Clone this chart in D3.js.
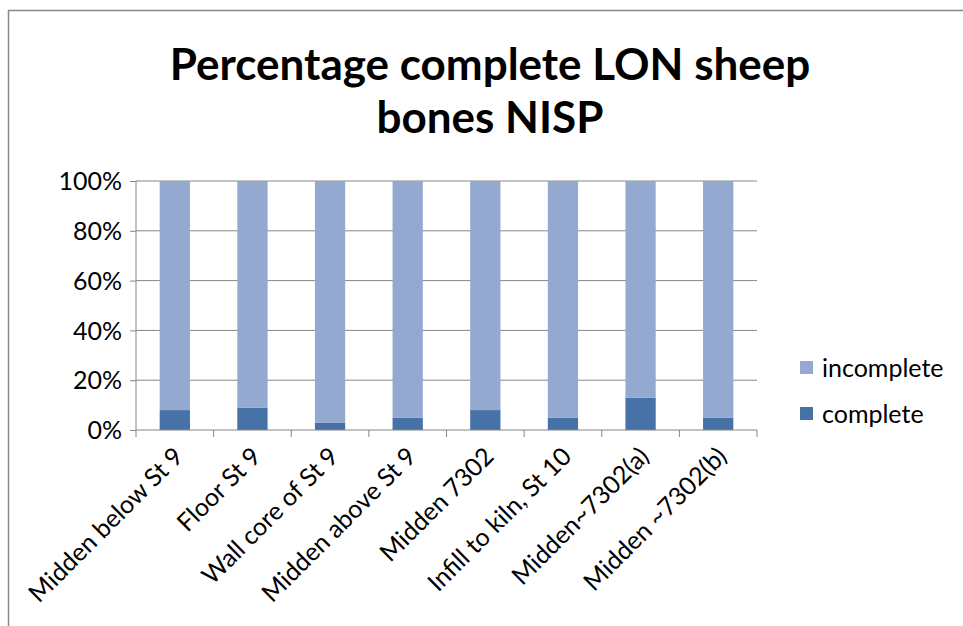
<!DOCTYPE html>
<html>
<head>
<meta charset="utf-8">
<script src="https://cdn.jsdelivr.net/npm/d3@7"></script>
<style>
    body { margin: 0; background: #fff; overflow: hidden; }
    text { font-family: Lato, "Open Sans", sans-serif; fill: #000; }
</style>
</head>
<body>
<div id="chart"></div>
<script>
// chart values
var categories = ["Midden below St 9", "Floor St 9", "Wall core of St 9", "Midden above St 9",
    "Midden 7302", "Infill to kiln, St 10", "Midden~7302(a)", "Midden ~7302(b)"];
var complete = [8, 9, 3, 5, 8, 5, 13, 5];
var incomplete = [92, 91, 97, 95, 92, 95, 87, 95];
var seriesNames = ["complete", "incomplete"];
var yTicks = [0, 0.2, 0.4, 0.6, 0.8, 1];
var titleLines = ["Percentage complete LON sheep", "bones NISP"];

var svgWidth = 963;
var svgHeight = 626;
var margin = { top: 181, left: 136, right: 206, bottom: 196 };
var width = svgWidth - margin.left - margin.right;
var height = svgHeight - margin.top - margin.bottom;

var colors = { complete: "#4672a8", incomplete: "#94a9d0" };

var svg = d3.select("#chart")
    .append("svg")
    .attr("width", svgWidth)
    .attr("height", svgHeight)
    .style("display", "block");

// outer chart border (only top and left edges are in view)
svg.append("path")
    .attr("d", `M8.5,${svgHeight}V10.5H${svgWidth}`)
    .attr("fill", "none")
    .attr("stroke", "#868686")
    .attr("stroke-width", 1.5);

// title
svg.append("text")
    .attr("text-anchor", "middle")
    .style("font-size", "44px")
    .style("font-weight", "bold")
    .selectAll("tspan")
    .data(titleLines)
    .enter()
    .append("tspan")
    .attr("x", 490)
    .attr("y", (d, i) => 80 + i * 53)
    .text(d => d);

var chartGroup = svg.append("g")
    .attr("transform", `translate(${margin.left}, ${margin.top})`);

// build rows for stacking
var rows = categories.map(function (c, i) {
    return { name: c, complete: complete[i], incomplete: incomplete[i] };
});

var stacked = d3.stack()
    .keys(seriesNames)
    .offset(d3.stackOffsetExpand)(rows);

var xScale = d3.scaleBand()
    .domain(categories)
    .range([0, width])
    .paddingInner(0.61)
    .paddingOuter(0.305);

var yScale = d3.scaleLinear()
    .domain([0, 1])
    .range([height, 0]);

// gridlines
chartGroup.append("g")
    .selectAll("line")
    .data(yTicks.slice(1))
    .enter()
    .append("line")
    .attr("x1", 0)
    .attr("x2", width)
    .attr("y1", d => yScale(d))
    .attr("y2", d => yScale(d))
    .attr("stroke", "#868686")
    .attr("stroke-width", 1);

// bars
chartGroup.selectAll(".series")
    .data(stacked)
    .enter()
    .append("g")
    .attr("fill", d => colors[d.key])
    .selectAll("rect")
    .data(d => d)
    .enter()
    .append("rect")
    .attr("x", d => xScale(d.data.name))
    .attr("y", d => yScale(d[1]))
    .attr("width", xScale.bandwidth())
    .attr("height", d => yScale(d[0]) - yScale(d[1]));

// y axis
var yAxis = d3.axisLeft(yScale)
    .tickValues(yTicks)
    .tickFormat(d3.format(".0%"))
    .tickSize(6)
    .tickPadding(8);

var yG = chartGroup.append("g").call(yAxis);
yG.select(".domain").attr("stroke", "#868686").attr("d", `M0,0V${height}`);
yG.selectAll(".tick line").attr("stroke", "#868686");
yG.selectAll("text")
    .style("font-size", "25px")
    .attr("fill", "#000")
    .attr("dy", "0.35em");

// x axis
var xG = chartGroup.append("g")
    .attr("transform", `translate(0, ${height})`);

xG.append("line")
    .attr("x1", 0)
    .attr("x2", width)
    .attr("stroke", "#868686");

var step = xScale.step();
xG.selectAll(".xtick")
    .data(d3.range(categories.length + 1))
    .enter()
    .append("line")
    .attr("x1", d => d * step)
    .attr("x2", d => d * step)
    .attr("y1", 0)
    .attr("y2", 7)
    .attr("stroke", "#868686");

xG.selectAll(".xlabel")
    .data(categories)
    .enter()
    .append("text")
    .attr("text-anchor", "end")
    .style("font-size", "25px")
    .attr("transform", d => `translate(${xScale(d) + xScale.bandwidth() / 2 + 10}, 28) rotate(-45)`)
    .text(d => d);

// legend
var legend = svg.append("g")
    .attr("transform", "translate(800, 361)");

var legendItems = legend.selectAll("g")
    .data(["incomplete", "complete"])
    .enter()
    .append("g")
    .attr("transform", (d, i) => `translate(0, ${i * 46})`);

legendItems.append("rect")
    .attr("width", 13)
    .attr("height", 13)
    .attr("fill", d => colors[d]);

legendItems.append("text")
    .attr("x", 22)
    .attr("y", 7)
    .attr("dy", "0.35em")
    .style("font-size", "25px")
    .text(d => d);
</script>
</body>
</html>
